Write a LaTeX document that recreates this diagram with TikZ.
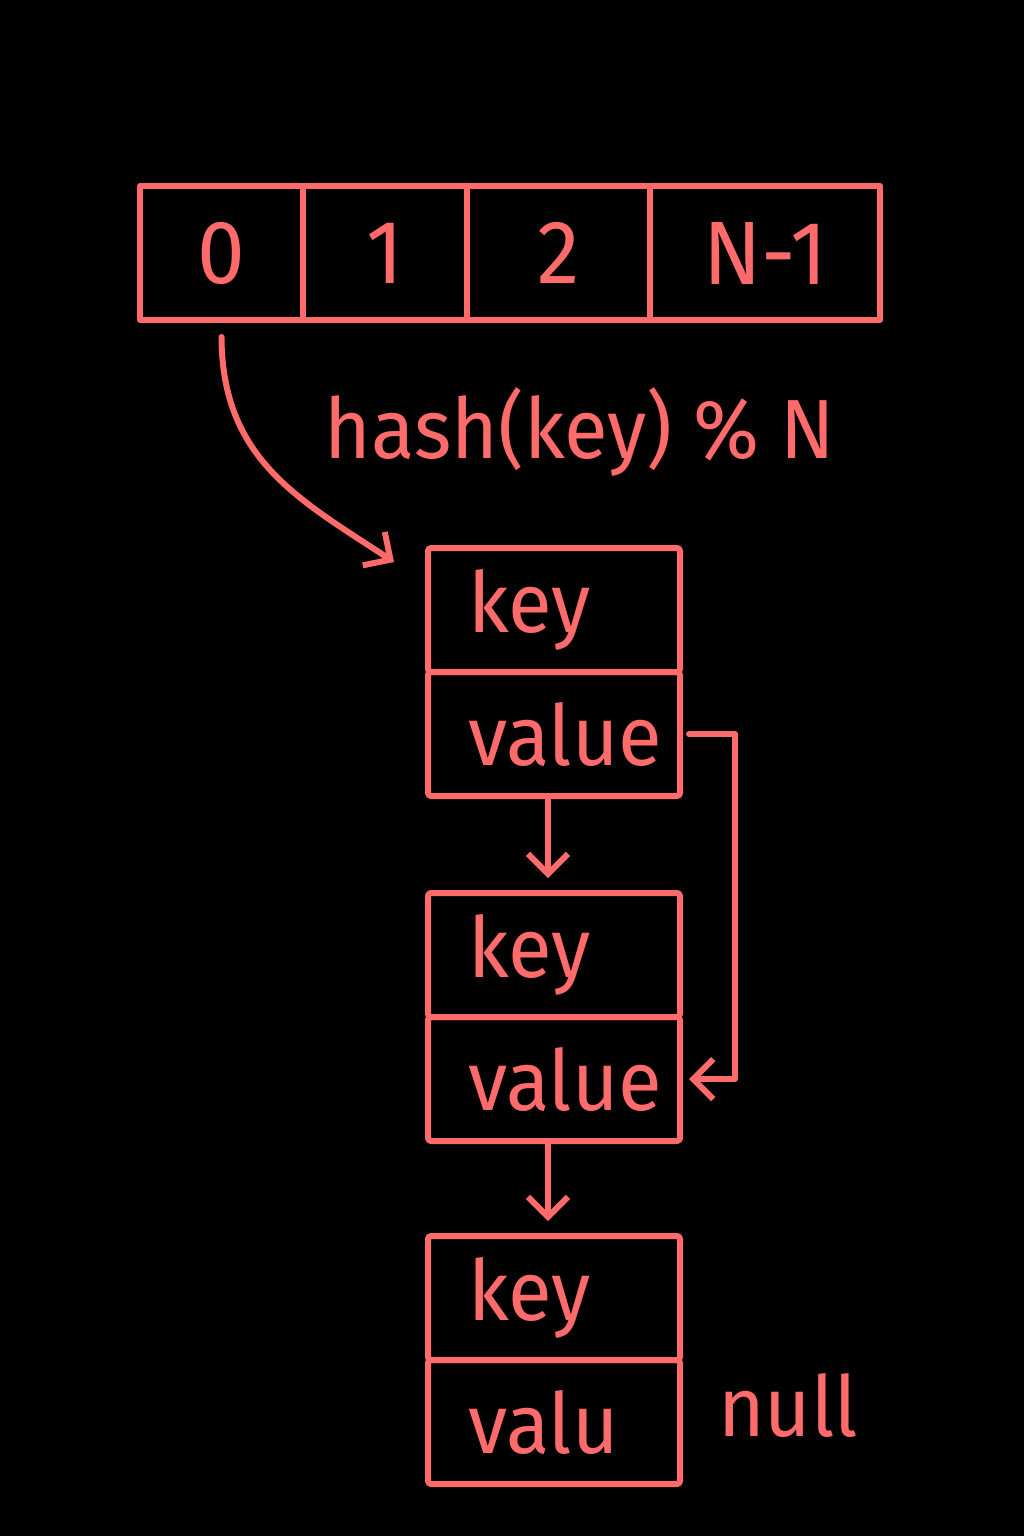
\documentclass[tikz,border=0pt]{standalone}
\usepackage{fontspec}
\setmainfont{Fira Sans}[FakeStretch=0.95]
\usetikzlibrary{arrows.meta}
\definecolor{ink}{HTML}{FF6B6B}

\begin{document}
\begin{tikzpicture}[x=1pt, y=-1pt, line width=6pt, ink, line cap=round, line join=round]
    \tikzstyle{cell} = [draw, rectangle, minimum height=134pt, inner sep=0pt, font=\fontsize{90}{90}\selectfont]
    \tikzstyle{field} = [draw, rectangle, rounded corners=3pt, minimum height=124pt, inner xsep=40pt, inner ysep=0pt, text width=172pt, align=left, font=\fontsize{84}{84}\selectfont]
    \tikzstyle{link} = [draw, -{Straight Barb[length=20pt,width=40pt]}]
    \tikzstyle{label} = [font=\fontsize{84}{84}\selectfont]

      \fill[black] (0,0) rectangle (1024,1536);
      \useasboundingbox (0,0) rectangle (1024,1536);

      % bucket array
      \node[cell, minimum width=163pt] (c0) at (221.5,253) {0};
      \node[cell, minimum width=164pt] (c1) at (385,253)   {1};
      \node[cell, minimum width=183pt] (c2) at (558.5,253) {2};
      \node[cell, minimum width=230pt] (cN) at (765,253)   {N-1};

      % chained entries
      \node[field] (k1) at (554,610)  {key};
      \node[field] (v1) at (554,734)  {value};
      \node[field] (k2) at (554,955)  {key};
      \node[field] (v2) at (554,1079) {value};
      \node[field] (k3) at (554,1298) {key};
      \node[field] (v3) at (554,1422) {valu};

      \coordinate (hashend) at (394,562);

      \draw[link] ([yshift=-14pt]c0.south) .. controls (222,460) and (300,500) .. (hashend);
      \draw[link, shorten >=12pt] ([xshift=-6pt]v1.south) -- ([xshift=-6pt]k2.north);
      \draw[link, shorten >=12pt] ([xshift=-6pt]v2.south) -- ([xshift=-6pt]k3.north);
      \draw[link] ([xshift=6pt]v1.east) -- ++(46,0) |- ([xshift=6pt]v2.east);

      \node[label] (hash) at (580,432)  {hash(key) \% N};
      \node[label] (nul)  at (788,1405) {null};
    \end{tikzpicture}
\end{document}
